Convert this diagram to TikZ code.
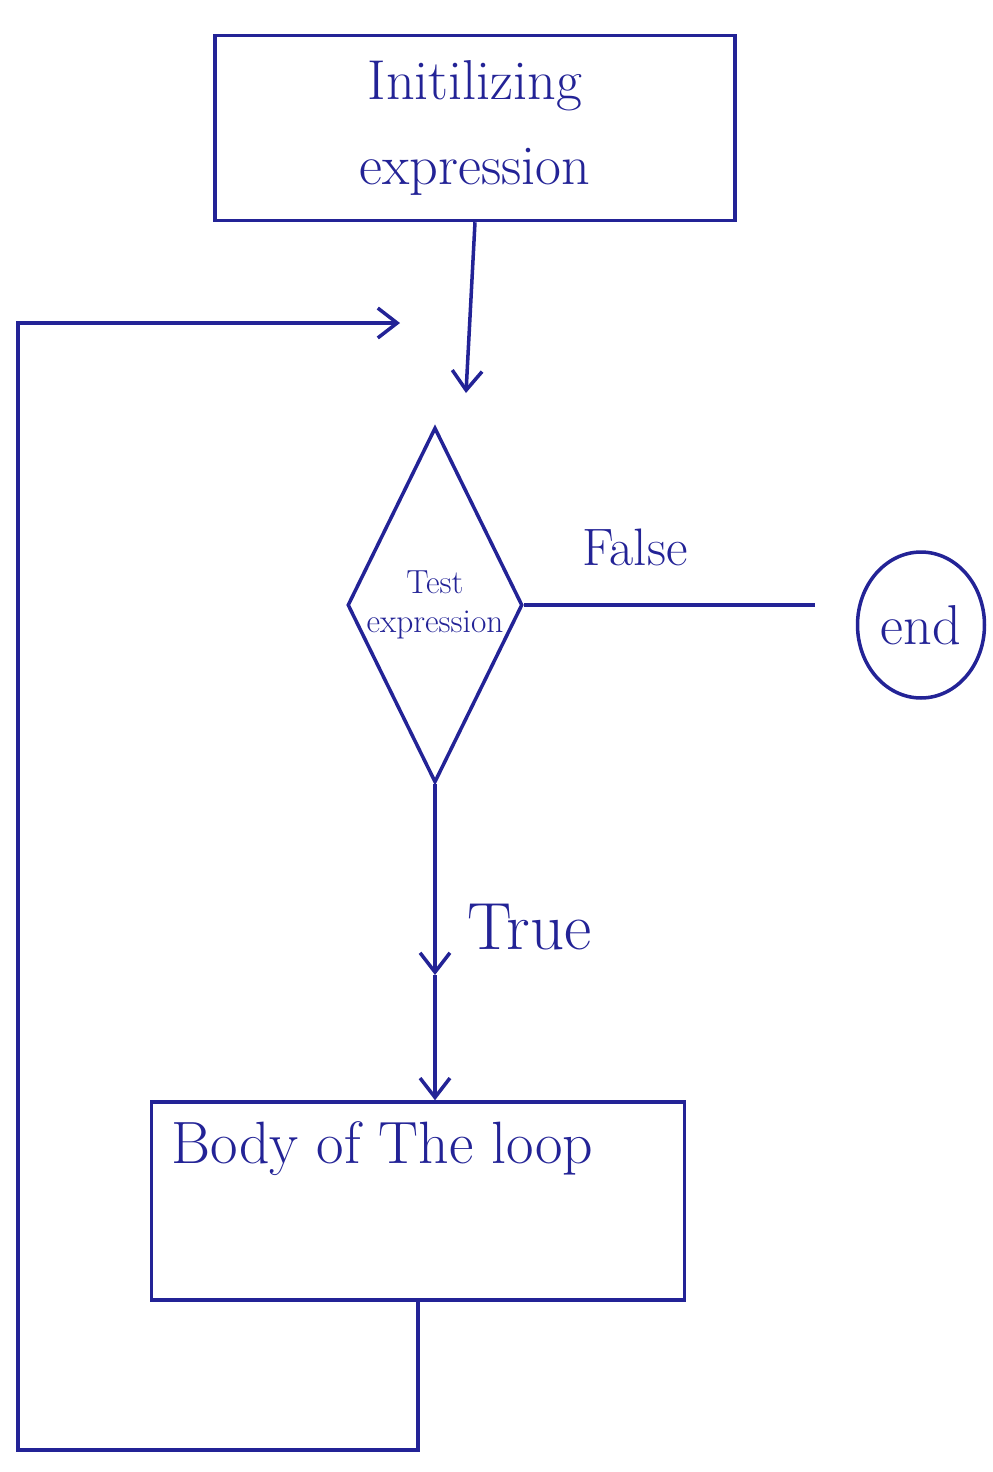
\documentclass[tikz,border=0pt]{standalone}
\usepackage{fontspec}
\usepackage{tikz}
\usetikzlibrary{shapes.geometric,arrows.meta}
\definecolor{ink}{RGB}{35,35,150}

\begin{document}
\begin{tikzpicture}[x=0.02cm,y=-0.02cm,
  box/.style={draw=ink,text=ink,line width=2pt,rectangle,align=center},
  test/.style={draw=ink,text=ink,line width=2pt,diamond,aspect=0.5,inner sep=0pt,
    minimum width=3.5cm,minimum height=7.1cm,align=center,font=\fontsize{19}{22}\selectfont},
  term/.style={draw=ink,text=ink,line width=2pt,ellipse,inner sep=0pt,
    minimum width=2.54cm,minimum height=2.92cm,font=\fontsize{32}{36}\selectfont},
  lbl/.style={text=ink,font=\fontsize{34}{40}\selectfont},
  line/.style={draw=ink,line width=2pt},
  flow/.style={line,-{Straight Barb[length=11pt,width=17pt]}}]

\useasboundingbox (0,0) rectangle (992,1472);

\node[box,minimum width=10.4cm,minimum height=3.7cm,font=\fontsize{32}{48}\selectfont] (init) at (475,128) {Initilizing\\expression};
\node[test] (test) at (435,605) {Test\\expression};
\node[term] (stop) at (921,625) {end};
\node[box,minimum width=10.66cm,minimum height=3.96cm,
  label={[lbl,anchor=north west,inner sep=12pt]north west:Body of The loop}] (body) at (418,1201) {};

\coordinate (tip) at (466,393);
\coordinate (fEnd) at (815,605);
\coordinate (tMid) at (435,975);
\coordinate (lpB) at (18,1450);
\coordinate (lpC) at (18,323);
\coordinate (lpD) at (400,323);

\draw[flow] (init.south) -- (tip);
\draw[line] (test.east) -- (fEnd) node[lbl,font=\fontsize{30}{34}\selectfont,pos=0.38,above=18pt] (fl) {False};
\draw[flow] (test.south) -- (tMid) node[lbl,font=\fontsize{38}{42}\selectfont,pos=0.75,right=14pt] (tl) {True};
\draw[flow] (tMid) -- (tMid |- body.north);
\draw[flow] (body.south) |- (lpB) -- (lpC) -- (lpD);

\end{tikzpicture}
\end{document}
